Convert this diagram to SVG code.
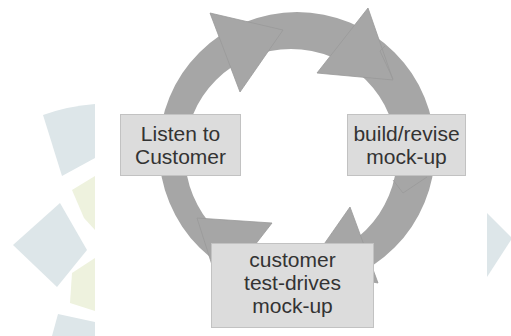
<svg xmlns="http://www.w3.org/2000/svg" width="511" height="336" viewBox="0 0 511 336">
<style>
.wb{fill:#dde6e9}
.wy{fill:#eef2de}
.ring{fill:#a6a6a6}
.head{fill:#a6a6a6;stroke:#999;stroke-width:0.8;stroke-linejoin:miter}
.art{fill:none;stroke:#999;stroke-width:0.8}
.box{fill:#dcdcdc;stroke:#c2c2c2;stroke-width:1}
.lbl{font-family:"Liberation Sans",Arial,sans-serif;font-size:21px;fill:#333;text-anchor:middle}
</style>
<rect width="511" height="336" fill="#fff"/>
<g id="watermark">
<path class="wb" d="M43,115 Q68,106 95,104 L95,158 L62,176 Z"/>
<path class="wy" d="M72,190 L95,176 L95,230 L84,218 Z"/>
<path class="wb" d="M13,245 L60,203 L87,250 L57,287 Z"/>
<path class="wy" d="M72,273 L95,258 L95,311 L70,303 Z"/>
<path class="wb" d="M58,314 L95,322 L95,336 L52,336 Z"/>
<path class="wb" d="M487,213 L511,237 L511,240 L487,277 Z"/>
</g>
<g id="connectors">
<path class="ring" fill-rule="evenodd" d="M435,150 A138,138 0 1 1 159,150 A138,138 0 1 1 435,150 Z M397,155 A106,106 0 1 0 185,155 A106,106 0 1 0 397,155 Z"/>
<polygon class="head" points="210,13 283,30 240,92"/>
<polygon class="head" points="368,8 393,80 317,73"/>
<polygon class="head" points="350,207 378,283 306,270"/>
<polygon class="head" points="272,223 220,290 197,218"/>
<polyline class="art" points="385,46 380,51 393,79"/>
<polyline class="art" points="393,180 403,193 427,177"/>
</g>
<g id="node-listen">
<rect class="box" x="120.5" y="114.5" width="120" height="61"/>
<text class="lbl" x="180.5" y="141">Listen to</text>
<text class="lbl" x="180.5" y="164">Customer</text>
</g>
<g id="node-build">
<rect class="box" x="347.5" y="114.5" width="118" height="61"/>
<text class="lbl" x="406.5" y="141">build/revise</text>
<text class="lbl" x="406.5" y="164">mock-up</text>
</g>
<g id="node-test">
<rect class="box" x="211.5" y="243.5" width="162" height="84"/>
<text class="lbl" x="292.5" y="267">customer</text>
<text class="lbl" x="292.5" y="290">test-drives</text>
<text class="lbl" x="292.5" y="313">mock-up</text>
</g>
</svg>
